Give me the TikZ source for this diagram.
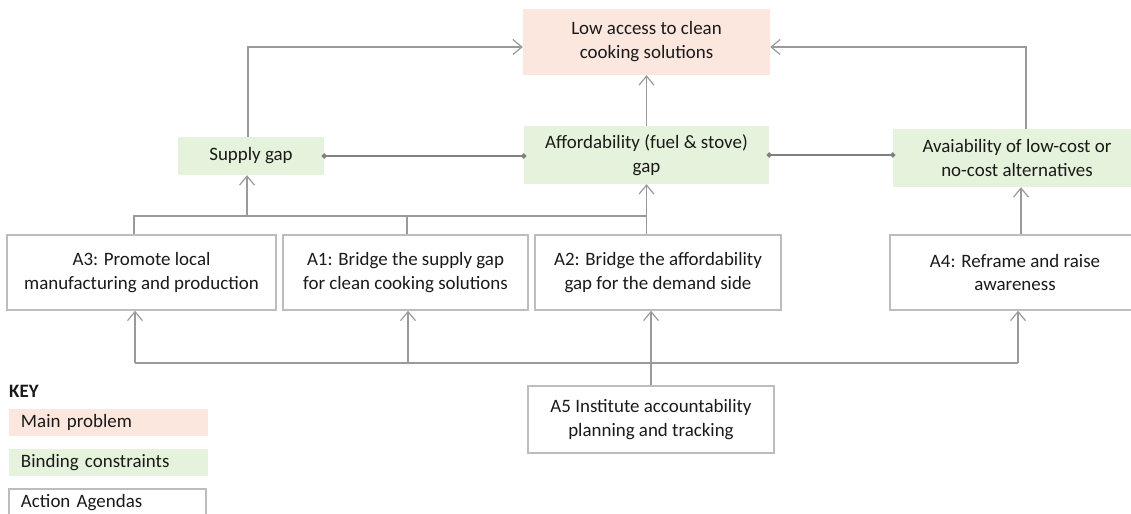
\documentclass[tikz,border=0pt]{standalone}
\usepackage{fontspec}
\setmainfont{Carlito}
\usetikzlibrary{arrows.meta,calc}
\definecolor{mainpink}{HTML}{FBE7DD}
\definecolor{bindgreen}{HTML}{E6F3DC}
\definecolor{boxgray}{HTML}{BDBDBD}
\definecolor{linegray}{HTML}{9A9A9A}
\definecolor{dotgray}{HTML}{808080}
\definecolor{inkgray}{HTML}{1A1A1A}
\begin{document}
\begin{tikzpicture}[x=1bp,y=-1bp,font=\fontsize{19}{24}\selectfont,text=inkgray,
		problem/.style={fill=mainpink,align=center,inner sep=0pt},
		constraint/.style={fill=bindgreen,align=center,inner sep=0pt},
		agenda/.style={draw=boxgray,line width=1.5bp,align=center,inner sep=0pt,minimum height=75bp},
		keybox/.style={text width=175bp,inner xsep=12bp,inner ysep=0pt,minimum height=27bp,align=left},
		link/.style={draw=linegray,line width=1.2bp,-{Straight Barb[length=9bp,width=15bp]}},
		wire/.style={draw=linegray,line width=1.2bp},
		dotlink/.style={draw=dotgray,line width=1.5bp,{Circle[length=5bp]}-{Circle[length=5bp]},shorten <=-2.5bp,shorten >=-2.5bp}]
		\fill[white] (0,0) rectangle (1131,514);
		\useasboundingbox (0,0) rectangle (1131,514);
		\node[problem,minimum width=247bp,minimum height=66bp] (main) at (646.5,42) {Low access to clean\\cooking solutions};
		\node[constraint,minimum width=146bp,minimum height=38bp] (supply) at (251,156) {Supply gap};
		\node[constraint,minimum width=245bp,minimum height=58bp] (afford) at (646.5,155) {Affordability (fuel \& stove)\\gap};
		\node[constraint,minimum width=248bp,minimum height=58bp] (avail) at (1017,158) {Avaiability of low-cost or\\no-cost alternatives};
		\node[agenda,minimum width=269bp] (a3) at (141.5,272.5) {A3: Promote local\\manufacturing and production};
		\node[agenda,minimum width=245bp] (a1) at (405.5,272.5) {A1: Bridge the supply gap\\for clean cooking solutions};
		\node[agenda,minimum width=246bp] (a2) at (658,272.5) {A2: Bridge the affordability\\gap for the demand side};
		\node[agenda,minimum width=250bp] (a4) at (1015,272.5) {A4: Reframe and raise\\awareness};
		\node[agenda,minimum width=246bp,minimum height=67bp] (a5) at (651,419.5) {A5 Institute accountability\\planning and tracking};
		\node[font=\fontsize{19}{24}\selectfont\bfseries,anchor=base west,inner sep=0pt] (key) at (9,397) {KEY};
		\node[keybox,fill=mainpink] (keymain) at (108.5,422.5) {Main problem};
		\node[keybox,fill=bindgreen] (keybind) at (108.5,462.5) {Binding constraints};
		\node[keybox,draw=boxgray,line width=1.5bp,text width=173bp] (keyagenda) at (107.5,502.5) {Action Agendas};
		\coordinate (topbus) at (0,216);
		\coordinate (lowbus) at (0,363);
		\coordinate (mainw) at ($(main.west)+(0,5)$);
		\coordinate (maine) at ($(main.east)+(0,5)$);
		\coordinate (supplytop) at ($(supply.north)+(-3,0)$);
		\coordinate (supplybot) at ($(supply.south)+(-4,0)$);
		\coordinate (availtop) at ($(avail.north)+(9,0)$);
		\coordinate (a3top) at ($(a3.north)+(-7.5,0)$);
		\coordinate (a1top) at ($(a1.north)+(1.5,0)$);
		\coordinate (a4top) at ($(a4.north)+(6,0)$);
		\coordinate (a3bot) at ($(a3.south)+(-6.5,0)$);
		\coordinate (a1bot) at ($(a1.south)+(2.5,0)$);
		\coordinate (a4bot) at ($(a4.south)+(3,0)$);
		\draw[link] (supplytop) |- (mainw);
		\draw[link] (afford.north) -- (main.south);
		\draw[link] (availtop) |- (maine);
		\draw[dotlink] (supply.east) -- (supply.east -| afford.west);
		\draw[dotlink] (afford.east) -- (afford.east -| avail.west);
		\draw[wire] (a3top) |- (topbus -| afford.south);
		\draw[wire] (a1top) -- (a1top |- topbus);
		\draw[link] (supplybot |- topbus) -- (supplybot);
		\draw[link] (a2.north -| afford.south) -- (afford.south);
		\draw[link] (a4top) -- (a4top |- avail.south);
		\draw[wire] (a3bot |- lowbus) -- (a4bot |- lowbus);
		\draw[link] (a3bot |- lowbus) -- (a3bot);
		\draw[link] (a1bot |- lowbus) -- (a1bot);
		\draw[link] (a4bot |- lowbus) -- (a4bot);
		\draw[link] (a5.north) -- (a5.north |- a2.south);
\end{tikzpicture}
\end{document}
